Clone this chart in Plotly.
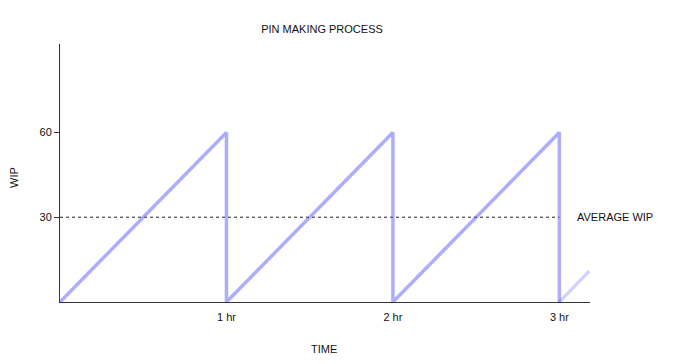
import plotly.graph_objects as go

# Data
saw_time = [0, 1, 1, 2, 2, 3, 3]
saw_wip = [0, 60, 0, 60, 0, 60, 0]
tail_time = [3, 3.18]
tail_wip = [0, 11]
avg_time = [0, 3]
avg_wip = [30, 30]
x_tickvals = [1, 2, 3]
x_ticktext = ["1 hr", "2 hr", "3 hr"]
y_tickvals = [30, 60]

font = "Liberation Sans, Arial, Helvetica, sans-serif"

fig = go.Figure()
fig.add_trace(go.Scatter(x=avg_time, y=avg_wip, mode="lines",
                         line=dict(color="#222", width=1, dash="dot"),
                         showlegend=False, hoverinfo="skip"))
fig.add_trace(go.Scatter(x=saw_time, y=saw_wip, mode="lines",
                         line=dict(color="rgba(80,80,255,0.47)", width=3.5),
                         showlegend=False))
fig.add_trace(go.Scatter(x=tail_time, y=tail_wip, mode="lines",
                         line=dict(color="rgba(80,80,255,0.25)", width=3.5),
                         showlegend=False))

fig.add_annotation(x=3.0, y=30, xref="x", yref="y", text="AVERAGE WIP",
                   showarrow=False, xanchor="left", xshift=16,
                   font=dict(size=11, color="#111", family=font))
fig.add_annotation(x=(324 - 60) / 530, y=(302 - 349) / 258, xref="paper", yref="paper",
                   text="TIME", showarrow=False, xanchor="center", yanchor="middle",
                   font=dict(size=11, color="#111", family=font))
fig.add_annotation(x=(14 - 60) / 530, y=(302 - 178) / 258, xref="paper", yref="paper",
                   text="WIP", showarrow=False, textangle=-90,
                   xanchor="center", yanchor="middle",
                   font=dict(size=11, color="#111", family=font))

fig.update_layout(
    width=676, height=364,
    margin=dict(l=60, r=86, t=44, b=62, autoexpand=False),
    paper_bgcolor="white", plot_bgcolor="white",
    font=dict(family=font, size=11, color="#111"),
    title=dict(text="PIN MAKING PROCESS", x=322 / 676, xanchor="center",
               y=1 - 29 / 364, yanchor="middle", font=dict(size=11)),
    xaxis=dict(range=[0, 3.184], tickvals=x_tickvals, ticktext=x_ticktext,
               showgrid=False, zeroline=False, showline=True, linecolor="#333",
               linewidth=1, ticks="", ticklabelstandoff=5, automargin=False),
    yaxis=dict(range=[0, 91.3], tickvals=y_tickvals,
               showgrid=False, zeroline=False, showline=True, linecolor="#333",
               linewidth=1, ticks="outside", ticklen=5, tickcolor="#333",
               automargin=False),
)

fig.write_html("out.html")
